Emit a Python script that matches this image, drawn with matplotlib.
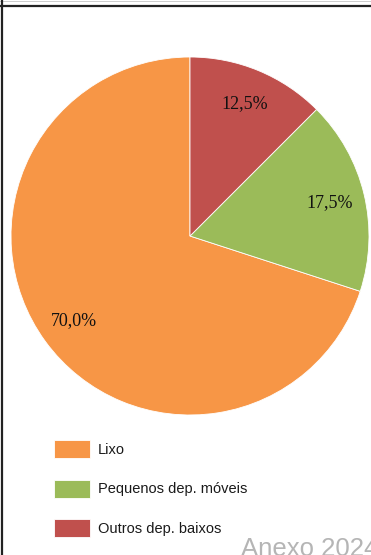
import matplotlib.pyplot as plt
from matplotlib.lines import Line2D

# data
categories = ['Lixo', 'Pequenos dep. móveis', 'Outros dep. baixos']
values = [70.0, 17.5, 12.5]
colors = ['#F79646', '#9BBB59', '#C0504D']

W, H = 371, 555
fig = plt.figure(figsize=(W / 100, H / 100), dpi=100)
fig.patch.set_facecolor('white')

# pie area (pixel box converted to figure fractions)
ax = fig.add_axes([11 / W, 140 / H, 358 / W, 358 / H])
wedges, texts, autotexts = ax.pie(
    values, colors=colors, startangle=90, radius=1.0,
    autopct=lambda p: f"{p:.1f}%".replace('.', ','),
    pctdistance=0.8,
    wedgeprops=dict(edgecolor='white', linewidth=0.6),
    textprops=dict(family='Liberation Serif', fontsize=13, color='#111111'),
)
ax.set_xlim(-1, 1)
ax.set_ylim(-1, 1)

# legend below the pie
fig.legend(wedges, categories, loc='upper left',
           bbox_to_anchor=(54 / W, 1 - 440 / H), bbox_transform=fig.transFigure,
           frameon=False, borderpad=0, borderaxespad=0,
           handlelength=2.5, handleheight=1.55, handletextpad=0.5,
           labelspacing=1.46,
           prop=dict(family='Liberation Sans', size=10.5))
for t in fig.legends[0].get_texts():
    t.set_color('#1a1a1a')

# frame lines of the scanned page
fig.add_artist(Line2D([0, 1], [1 - 1 / H, 1 - 1 / H], transform=fig.transFigure,
                      color='#cccccc', linewidth=0.7))
fig.add_artist(Line2D([0, 1], [1 - 6 / H, 1 - 6 / H], transform=fig.transFigure,
                      color='#222222', linewidth=1.6))
fig.add_artist(Line2D([1.8 / W, 1.8 / W], [0, 1], transform=fig.transFigure,
                      color='#222222', linewidth=1.6))

# watermark-like caption, cut off at the bottom edge as in the scan
fig.text(241 / W, -1.5 / H, 'Anexo 2024', ha='left', va='baseline',
         family='Liberation Sans', fontsize=18.5, color='#b5b5b5')

fig.savefig('out.png', dpi=100)
